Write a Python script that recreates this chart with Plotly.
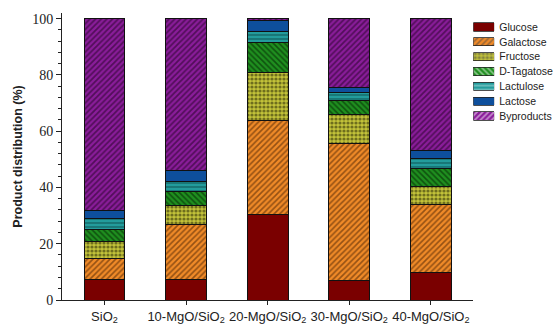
import plotly.graph_objects as go

# Catalysts on the x axis
catalysts = ["SiO<sub>2</sub>", "10-MgO/SiO<sub>2</sub>", "20-MgO/SiO<sub>2</sub>",
             "30-MgO/SiO<sub>2</sub>", "40-MgO/SiO<sub>2</sub>"]

# Product distribution (%) for each catalyst
glucose = [7.3, 7.3, 30.4, 7.1, 9.7]
galactose = [7.5, 19.7, 33.5, 48.5, 24.1]
fructose = [5.9, 6.5, 17.0, 10.3, 6.7]
tagatose = [4.2, 5.0, 10.6, 4.9, 6.2]
lactulose = [4.1, 3.5, 4.0, 2.9, 3.6]
lactose = [2.7, 4.2, 4.0, 2.0, 2.7]
byproducts = [68.3, 53.8, 0.5, 24.3, 47.0]

names = ["Glucose", "Galactose", "Fructose", "D-Tagatose", "Lactulose", "Lactose", "Byproducts"]
series = [glucose, galactose, fructose, tagatose, lactulose, lactose, byproducts]

# Fill styles: (background colour, hatch shape, hatch colour, hatch size, solidity)
styles = [
    ("#7a0000", "", "#000000", 4, 0.3),
    ("#f08a28", "/", "#3a1800", 4, 0.4),
    ("#c2c23a", ".", "#1a1a00", 4, 0.5),
    ("#1f8f1f", "\\", "#001500", 4, 0.4),
    ("#239c9c", "-", "#002020", 4, 0.3),
    ("#0e4f9c", "", "#000000", 4, 0.3),
    ("#8a1d9a", "/", "#1a001a", 4, 0.45),
]

fig = go.Figure()
xpos = list(range(len(catalysts)))

for name, vals, (bg, shape, fg, size, sol) in zip(names, series, styles):
    fig.add_trace(go.Bar(
        x=xpos, y=vals, name=name, width=0.5,
        marker=dict(color=bg, line=dict(color="#111111", width=1),
                    pattern=dict(shape=shape, fgcolor=fg, bgcolor=bg,
                                 size=size, solidity=sol, fillmode="overlay")),
        xaxis="x", yaxis="y", showlegend=False,
    ))

# Key: one swatch per product on a small side axis, names as its tick labels
fig.add_trace(go.Bar(
    x=[1] * len(names), y=names, orientation="h", width=0.55,
    marker=dict(color=[s[0] for s in styles], line=dict(color="#222222", width=0.8),
                pattern=dict(shape=[s[1] for s in styles], fgcolor=[s[2] for s in styles],
                             bgcolor=[s[0] for s in styles], size=[s[3] for s in styles],
                             solidity=[s[4] for s in styles], fillmode="overlay")),
    xaxis="x2", yaxis="y2", showlegend=False, hoverinfo="skip",
))

W, H = 553, 329
ml, mr, mt, mb = 62, 0, 13, 29
pw = W - ml - mr
x_end = (475 - ml) / pw
key_x0 = (475 - ml) / pw
key_x1 = (496 - ml) / pw
ph = H - mt - mb
key_top = (H - mb - 19.6) / ph
key_bot = (H - mb - 123.4) / ph

fig.update_layout(
    width=W, height=H,
    margin=dict(l=ml, r=mr, t=mt, b=mb),
    barmode="stack",
    plot_bgcolor="white", paper_bgcolor="white",
    xaxis=dict(
        domain=[0, x_end], range=[-0.52, 4.52],
        tickmode="array", tickvals=xpos, ticktext=catalysts, tickangle=0,
        showline=True, linecolor="#222222", linewidth=1,
        ticks="outside", ticklen=4, tickcolor="#222222",
        tickfont=dict(family="Arial, Liberation Sans", size=13, color="#222222"),
        showgrid=False, zeroline=False,
    ),
    yaxis=dict(
        range=[0, 102], tickvals=[0, 20, 40, 60, 80, 100],
        showline=True, linecolor="#222222", linewidth=1,
        ticks="outside", ticklen=5, tickcolor="#222222",
        minor=dict(dtick=4, ticks="outside", ticklen=3, tickcolor="#222222"),
        tickfont=dict(family="Liberation Serif, Times New Roman, serif", size=14, color="#222222"),
        title=dict(text="<b>Product distribution (%)</b>", standoff=6,
                   font=dict(family="Arial, Liberation Sans", size=12.5, color="#222222")),
        showgrid=False, zeroline=False,
    ),
    xaxis2=dict(domain=[key_x0, key_x1], range=[0, 1], anchor="y2",
                visible=False, fixedrange=True),
    yaxis2=dict(domain=[key_bot, key_top], anchor="x2", side="right",
                categoryorder="array", categoryarray=names, autorange="reversed",
                tickmode="array", tickvals=names, ticktext=names,
                showline=False, showgrid=False, zeroline=False, ticks="",
                ticklabelstandoff=4,
                tickfont=dict(family="Arial, Liberation Sans", size=10.5, color="#222222")),
)

fig.write_html("out.html")
